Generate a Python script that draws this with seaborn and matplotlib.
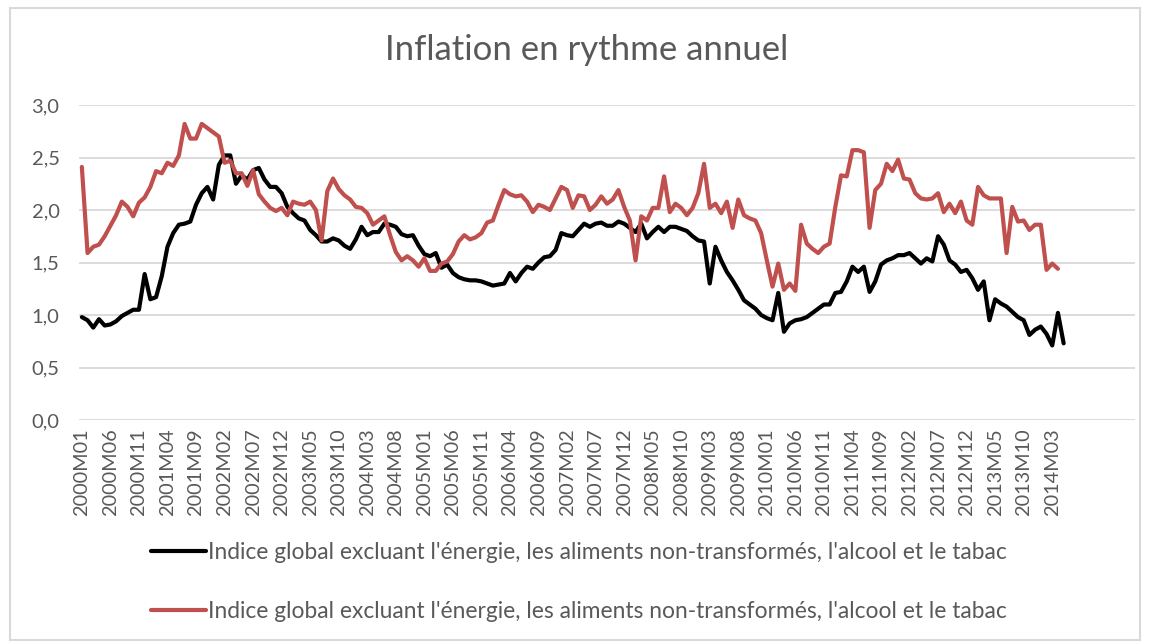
import numpy as np
import pandas as pd
import matplotlib
matplotlib.use("Agg")
import matplotlib.pyplot as plt
import seaborn as sns
from matplotlib.patches import Rectangle
from matplotlib.ticker import FuncFormatter

# monthly data, 2000M01 .. 2014M05
indice_noir = [
    0.98, 0.95, 0.88, 0.96, 0.90, 0.91, 0.94, 0.99, 1.02, 1.05, 1.05, 1.39,
    1.15, 1.17, 1.37, 1.65, 1.78, 1.86, 1.87, 1.89, 2.05, 2.16, 2.22, 2.10,
    2.43, 2.52, 2.52, 2.25, 2.33, 2.29, 2.38, 2.40, 2.29, 2.22, 2.22, 2.16,
    2.03, 1.97, 1.92, 1.90, 1.81, 1.76, 1.70, 1.70, 1.73, 1.71, 1.66, 1.63,
    1.72, 1.84, 1.76, 1.79, 1.79, 1.87, 1.86, 1.84, 1.77, 1.75, 1.76, 1.66,
    1.58, 1.56, 1.59, 1.45, 1.48, 1.40, 1.36, 1.34, 1.33, 1.33, 1.32, 1.30,
    1.28, 1.29, 1.30, 1.40, 1.32, 1.40, 1.46, 1.44, 1.50, 1.55, 1.56, 1.62,
    1.78, 1.76, 1.75, 1.81, 1.87, 1.84, 1.87, 1.88, 1.85, 1.85, 1.89, 1.87,
    1.83, 1.79, 1.87, 1.73, 1.79, 1.84, 1.79, 1.84, 1.84, 1.82, 1.80, 1.75,
    1.71, 1.70, 1.30, 1.65, 1.52, 1.41, 1.33, 1.24, 1.14, 1.10, 1.06, 1.00,
    0.97, 0.95, 1.21, 0.84, 0.92, 0.95, 0.96, 0.98, 1.02, 1.06, 1.10, 1.10,
    1.21, 1.22, 1.32, 1.46, 1.41, 1.46, 1.22, 1.32, 1.48, 1.52, 1.54, 1.57,
    1.57, 1.59, 1.54, 1.49, 1.54, 1.51, 1.75, 1.67, 1.52, 1.48, 1.41, 1.43,
    1.35, 1.24, 1.32, 0.95, 1.15, 1.11, 1.08, 1.03, 0.98, 0.95, 0.81, 0.86,
    0.89, 0.82, 0.71, 1.02, 0.73,
]

# monthly data, 2000M01 .. 2014M04
indice_rouge = [
    2.41, 1.59, 1.65, 1.67, 1.75, 1.85, 1.95, 2.08, 2.03, 1.94, 2.07, 2.12,
    2.22, 2.37, 2.35, 2.45, 2.42, 2.52, 2.82, 2.68, 2.68, 2.82, 2.78, 2.74,
    2.70, 2.45, 2.47, 2.35, 2.35, 2.23, 2.38, 2.15, 2.08, 2.02, 1.99, 2.02,
    1.95, 2.08, 2.06, 2.05, 2.08, 2.00, 1.71, 2.18, 2.30, 2.20, 2.14, 2.10,
    2.03, 2.02, 1.97, 1.86, 1.90, 1.94, 1.76, 1.60, 1.52, 1.56, 1.52, 1.46,
    1.54, 1.42, 1.42, 1.49, 1.51, 1.58, 1.70, 1.76, 1.72, 1.74, 1.78, 1.88,
    1.90, 2.05, 2.19, 2.15, 2.13, 2.14, 2.08, 1.98, 2.05, 2.03, 2.00, 2.11,
    2.22, 2.19, 2.02, 2.14, 2.13, 2.00, 2.05, 2.13, 2.06, 2.10, 2.19, 2.03,
    1.90, 1.52, 1.94, 1.90, 2.02, 2.02, 2.32, 1.98, 2.06, 2.02, 1.95, 2.02,
    2.16, 2.44, 2.02, 2.06, 1.97, 2.08, 1.83, 2.10, 1.95, 1.92, 1.90, 1.78,
    1.52, 1.27, 1.49, 1.24, 1.30, 1.23, 1.86, 1.68, 1.63, 1.59, 1.65, 1.68,
    2.03, 2.33, 2.32, 2.57, 2.57, 2.55, 1.83, 2.19, 2.25, 2.44, 2.37, 2.48,
    2.30, 2.29, 2.16, 2.11, 2.10, 2.11, 2.16, 1.98, 2.06, 1.97, 2.08, 1.90,
    1.86, 2.22, 2.14, 2.11, 2.11, 2.11, 1.59, 2.03, 1.89, 1.90, 1.81, 1.86,
    1.86, 1.43, 1.49, 1.44,
]

mois = [f"{2000 + k // 12}M{k % 12 + 1:02d}" for k in range(len(indice_noir))]
etiquettes = mois[::5]
libelle = "Indice global excluant l'énergie, les aliments non-transformés, l'alcool et le tabac"
titre = "Inflation en rythme annuel"

df = pd.DataFrame({
    "pos": np.arange(len(mois)),
    "mois": mois,
    "noir": indice_noir,
    "rouge": indice_rouge + [np.nan] * (len(indice_noir) - len(indice_rouge)),
})

sns.set_style("white")
plt.rcParams["font.family"] = ["Lato", "DejaVu Sans"]
gris = "#595959"

W, H = 1150, 642
fig = plt.figure(figsize=(W / 100, H / 100), dpi=100)
fig.patches.append(Rectangle((10 / W, 2 / H), 1130 / W, 632 / H, transform=fig.transFigure,
                             fill=False, edgecolor="#d9d9d9", linewidth=1.5))

ax = fig.add_axes([79 / W, 1 - 420 / H, (1135 - 79) / W, 315 / H])

sns.lineplot(data=df, x="pos", y="noir", color="black", linewidth=3.0, ax=ax, label=libelle)
sns.lineplot(data=df, x="pos", y="rouge", color="#c0504d", linewidth=3.0, ax=ax, label=libelle)

ax.set_ylim(0, 3.0)
ax.set_xlim(-0.5, 184.5)
ax.set_yticks(np.arange(0, 3.01, 0.5))
ax.yaxis.set_major_formatter(FuncFormatter(lambda v, p: f"{v:.1f}".replace(".", ",")))
ax.set_xticks(df["pos"][::5])
ax.set_xticklabels(etiquettes, rotation=90)
ax.tick_params(axis="y", labelsize=14.5, labelcolor=gris, length=0, pad=14)
ax.tick_params(axis="x", labelsize=14.3, labelcolor=gris, length=0, pad=6)
ax.grid(axis="y", color="#d9d9d9", linewidth=1.3)
ax.grid(axis="x", visible=False)
for s in ax.spines.values():
    s.set_visible(False)
ax.set_xlabel("")
ax.set_ylabel("")

handles, labels = ax.get_legend_handles_labels()
ax.get_legend().remove()
leg = fig.legend(handles, labels, loc="center", bbox_to_anchor=(579 / W, 1 - 582 / H),
                 frameon=False, fontsize=16.4, labelcolor=gris, handlelength=2.4,
                 handletextpad=0.12, labelspacing=1.7)

fig.text(587 / W, 1 - 50 / H, titre, ha="center", va="center", fontsize=25, color=gris)

fig.savefig("out.png", dpi=100)
